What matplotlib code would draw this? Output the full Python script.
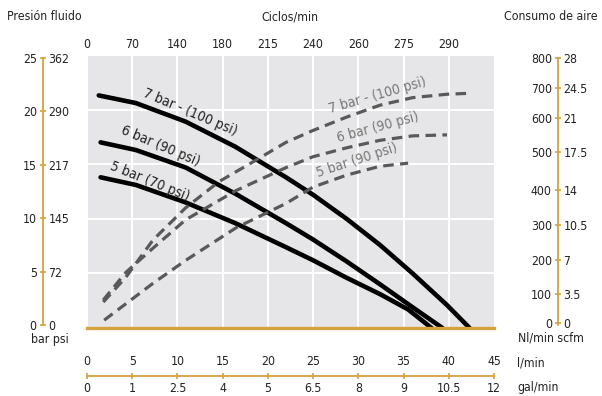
import matplotlib
matplotlib.use("Agg")
import matplotlib.pyplot as plt

# fuente estrecha parecida a la original
plt.rcParams["font.family"] = ["DejaVu Sans"]
plt.rcParams["font.stretch"] = "condensed"

# ---- datos ----
# presion fluido (bar) vs caudal (l/min)
x7 = [1.3, 5.4, 10.9, 16.4, 22.0, 25.0, 28.7, 32.4, 36.0, 39.8, 42.3]
p7 = [21.3, 20.6, 18.9, 16.6, 13.8, 12.2, 10.0, 7.6, 5.0, 2.1, 0.0]
x6 = [1.5, 5.4, 10.9, 16.4, 22.0, 25.0, 28.7, 32.4, 36.0, 39.3]
p6 = [17.0, 16.3, 14.7, 12.3, 9.6, 8.1, 6.1, 4.0, 1.9, 0.0]
x5 = [1.5, 5.4, 10.9, 16.4, 22.0, 25.0, 28.7, 32.4, 35.5, 38.1]
p5 = [13.8, 13.1, 11.5, 9.6, 7.4, 6.2, 4.6, 3.1, 1.7, 0.0]

# consumo de aire (Nl/min) vs caudal (l/min)
ax7 = [1.8, 4.3, 7.3, 10.9, 14.6, 18.3, 22.0, 25.0, 28.7, 32.4, 36.0, 39.8, 42.5]
a7 = [76, 149, 258, 352, 429, 486, 544, 579, 618, 653, 675, 685, 688]
ax6 = [1.8, 4.3, 7.3, 10.9, 16.5, 22.0, 25.0, 28.7, 32.4, 36.0, 39.8]
a6 = [82, 163, 234, 317, 403, 470, 502, 528, 550, 563, 566]
ax5 = [1.9, 7.3, 10.9, 16.5, 22.0, 25.0, 28.7, 32.4, 35.5]
a5 = [23, 131, 198, 294, 365, 413, 448, 474, 483]

# ejes
lmin_ticks = [0, 5, 10, 15, 20, 25, 30, 35, 40, 45]
gal_labels = ["0", "1", "2.5", "4", "5", "6.5", "8", "9", "10.5", "12"]
ciclos_labels = ["0", "70", "140", "180", "215", "240", "260", "275", "290"]
bar_ticks = [0, 5, 10, 15, 20, 25]
psi_labels = ["0", "72", "145", "217", "290", "362"]
nl_labels = ["0", "100", "200", "300", "400", "500", "600", "700", "800"]
scfm_labels = ["0", "3.5", "7", "10.5", "14", "17.5", "21", "24.5", "28"]
nl_tick_px = [323, 294, 260, 225, 190, 152, 118, 88, 58]  # posicion vertical (px) en la figura

W, H = 602, 396
ORANGE = "#d6a23e"
TXT = "#222222"
FS = 8.8

fig = plt.figure(figsize=(W / 100, H / 100), dpi=100)

def fx(x):
    return x / W

def fy(y):
    return 1 - y / H

# grafico principal
ax = fig.add_axes([fx(87), fy(328), (494 - 87) / W, (328 - 55) / H])
ax.set_facecolor("#e6e6e8")
ax.set_xlim(0, 45)
ax.set_ylim(0, 25)
ax.set_xticks(lmin_ticks[:-1])
ax.set_xticklabels(ciclos_labels)
ax.set_yticks(bar_ticks)
ax.grid(True, color="white", lw=1.4)
ax.set_axisbelow(True)
ax.tick_params(axis="x", top=False, bottom=False, labeltop=True, labelbottom=False,
               length=0, pad=3, labelsize=FS, labelcolor=TXT)
ax.tick_params(axis="y", left=False, labelleft=False, length=0)
for s in ["top", "left", "right"]:
    ax.spines[s].set_visible(False)
ax.spines["bottom"].set_color(ORANGE)
ax.spines["bottom"].set_linewidth(2.4)
ax.spines["bottom"].set_zorder(5)

# curvas de presion
for xs, ys in [(x7, p7), (x6, p6), (x5, p5)]:
    ax.plot(xs, ys, color="black", lw=3.3, solid_capstyle="round",
            solid_joinstyle="round", zorder=3)

# consumo de aire
axa = ax.twinx()
axa.set_ylim(0, 800)
axa.axis("off")
for xs, ys in [(ax7, a7), (ax6, a6), (ax5, a5)]:
    axa.plot(xs, ys, color="#595959", lw=2.3, ls=(0, (3.3, 2.0)), dash_capstyle="butt", zorder=2)

# etiquetas de curvas
def lab(x, y, s, rot, c):
    fig.text(fx(x), fy(y), s, rotation=rot, ha="center", va="center",
             fontsize=10, color=c, rotation_mode="anchor")

lab(190, 112, "7 bar - (100 psi)", -23, TXT)
lab(160, 146, "6 bar (90 psi)", -23, TXT)
lab(150, 181, "5 bar (70 psi)", -22, TXT)
lab(377, 95, "7 bar - (100 psi)", 16, "#777777")
lab(378, 127, "6 bar (90 psi)", 15, "#777777")
lab(357, 160, "5 bar (90 psi)", 18, "#777777")

# eje izquierdo bar / psi
axl = fig.add_axes([fx(43), fy(325), 0.0001, (325 - 58) / H])
axl.set_ylim(0, 25)
axl.set_xticks([])
axl.set_yticks(bar_ticks)
axl.set_yticklabels([str(v) for v in bar_ticks])
axl.patch.set_visible(False)
for s in ["top", "bottom", "right"]:
    axl.spines[s].set_visible(False)
axl.spines["left"].set_color(ORANGE)
axl.spines["left"].set_linewidth(1.3)
axl.tick_params(axis="y", direction="inout", length=5, width=1.2, color=ORANGE,
                pad=2, labelsize=FS, labelcolor=TXT)
axl2 = axl.twinx()
axl2.set_ylim(0, 25)
axl2.set_yticks(bar_ticks)
axl2.set_yticklabels(psi_labels)
for s in ["top", "bottom", "left", "right"]:
    axl2.spines[s].set_visible(False)
axl2.tick_params(axis="y", length=0, pad=4, labelsize=FS, labelcolor=TXT)

# eje derecho Nl/min / scfm
axr = fig.add_axes([fx(558), fy(325), 0.0001, (325 - 58) / H])
axr.set_ylim(325, 58)
axr.set_xticks([])
axr.set_yticks(nl_tick_px)
axr.set_yticklabels(nl_labels)
axr.patch.set_visible(False)
for s in ["top", "bottom", "right"]:
    axr.spines[s].set_visible(False)
axr.spines["left"].set_color(ORANGE)
axr.spines["left"].set_linewidth(1.3)
axr.tick_params(axis="y", direction="inout", length=5, width=1.2, color=ORANGE,
                pad=2, labelsize=FS, labelcolor=TXT)
axr2 = axr.twinx()
axr2.set_ylim(325, 58)
axr2.set_yticks(nl_tick_px)
axr2.set_yticklabels(scfm_labels)
for s in ["top", "bottom", "left", "right"]:
    axr2.spines[s].set_visible(False)
axr2.tick_params(axis="y", length=0, pad=4, labelsize=FS, labelcolor=TXT)

# eje inferior l/min / gal/min
axb = fig.add_axes([fx(87), fy(376), (494 - 87) / W, 0.0001])
axb.set_xlim(0, 45)
axb.set_yticks([])
axb.set_xticks(lmin_ticks)
axb.set_xticklabels(gal_labels)
axb.patch.set_visible(False)
for s in ["top", "left", "right"]:
    axb.spines[s].set_visible(False)
axb.spines["bottom"].set_color(ORANGE)
axb.spines["bottom"].set_linewidth(1.3)
axb.tick_params(axis="x", direction="inout", length=5, width=1.2, color=ORANGE,
                pad=2, labelsize=FS, labelcolor=TXT)
axb.xaxis.get_major_ticks()[0].tick1line.set_visible(False)
axb2 = axb.twiny()
axb2.set_xlim(0, 45)
axb2.set_xticks(lmin_ticks)
axb2.set_xticklabels([str(v) for v in lmin_ticks])
for s in ["top", "bottom", "left", "right"]:
    axb2.spines[s].set_visible(False)
axb2.tick_params(axis="x", length=0, pad=6, labelsize=FS, labelcolor=TXT)

# textos
fig.text(fx(7), fy(17), "Presión fluido", ha="left", va="center", fontsize=FS, color=TXT)
fig.text(fx(290), fy(17), "Ciclos/min", ha="center", va="center", fontsize=FS, color=TXT)
fig.text(fx(598), fy(17), "Consumo de aire", ha="right", va="center", fontsize=FS, color=TXT)
fig.text(fx(50), fy(339), "bar psi", ha="center", va="center", fontsize=FS, color=TXT)
fig.text(fx(551), fy(338), "Nl/min scfm", ha="center", va="center", fontsize=FS, color=TXT)
fig.text(fx(517), fy(363), "l/min", ha="left", va="center", fontsize=FS, color=TXT)
fig.text(fx(517), fy(388), "gal/min", ha="left", va="center", fontsize=FS, color=TXT)

fig.savefig("out.png", dpi=100)
